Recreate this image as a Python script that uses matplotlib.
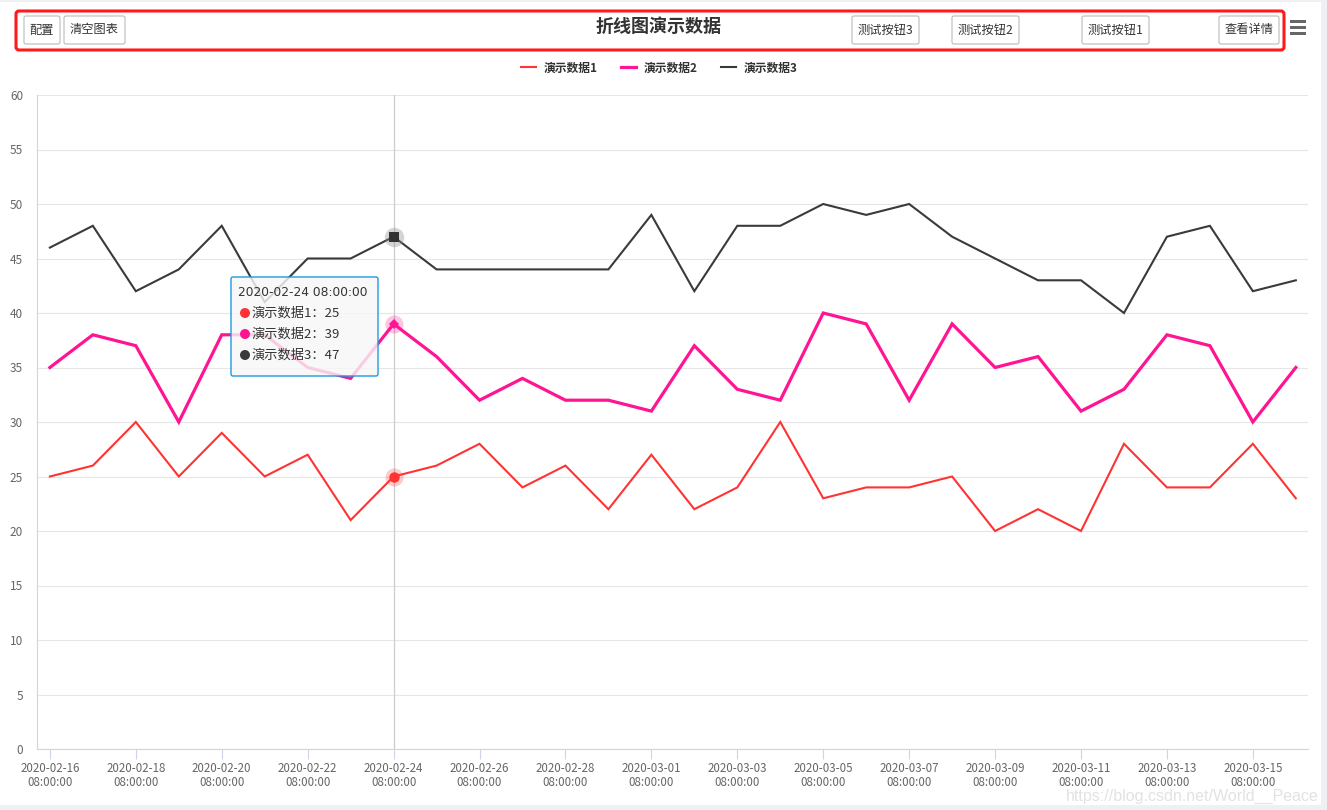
import matplotlib
matplotlib.use("Agg")
import matplotlib.pyplot as plt
import numpy as np
import pandas as pd
from matplotlib.patches import FancyBboxPatch, Rectangle, Circle

plt.rcParams["font.family"] = ["Noto Sans CJK SC", "DejaVu Sans"]

# ---------------------------------------------------------------------------
# Data
# ---------------------------------------------------------------------------
dates = pd.date_range("2020-02-16 08:00:00", "2020-03-16 08:00:00", freq="D")
series_names = ["演示数据1", "演示数据2", "演示数据3"]
demo1 = [25, 26, 30, 25, 29, 25, 27, 21, 25, 26, 28, 24, 26, 22, 27,
         22, 24, 30, 23, 24, 24, 25, 20, 22, 20, 28, 24, 24, 28, 23]
demo2 = [35, 38, 37, 30, 38, 38, 35, 34, 39, 36, 32, 34, 32, 32, 31,
         37, 33, 32, 40, 39, 32, 39, 35, 36, 31, 33, 38, 37, 30, 35]
demo3 = [46, 48, 42, 44, 48, 41, 45, 45, 47, 44, 44, 44, 44, 44, 49,
         42, 48, 48, 50, 49, 50, 47, 45, 43, 43, 40, 47, 48, 42, 43]
colors = ["#ff3333", "#ff1493", "#3a3a3a"]
widths = [1.5, 2.3, 1.5]
hover_idx = 8  # 2020-02-24

title = "折线图演示数据"
left_buttons = [("配置", 24, 60), ("清空图表", 64, 125)]
right_buttons = [("测试按钮3", 852, 919), ("测试按钮2", 952, 1019),
                 ("测试按钮1", 1082, 1149), ("查看详情", 1219, 1279)]

W, H = 1327, 810
fig = plt.figure(figsize=(W / 100, H / 100), dpi=100)
fig.patch.set_facecolor("white")

# ---------------------------------------------------------------------------
# Main axes
# ---------------------------------------------------------------------------
ax = fig.add_axes([37 / W, 1 - 749 / H, (1308 - 37) / W, (749 - 95) / H])
all_series = [demo1, demo2, demo3]
for vals, name, c, lw in zip(all_series, series_names, colors, widths):
    ax.plot(dates, vals, color=c, lw=lw, label=name, zorder=3,
            solid_joinstyle="miter")

ax.set_ylim(0, 60)
ax.set_yticks(np.arange(0, 61, 5))
ax.set_xlim(dates[0] - pd.Timedelta(hours=7.2), dates[-1] + pd.Timedelta(hours=6.8))
ax.set_xticks(dates[::2])
ax.set_xticklabels([d.strftime("%Y-%m-%d\n%H:%M:%S") for d in dates[::2]])
ax.grid(axis="y", color="#e6e6e6", lw=0.8)
ax.grid(axis="x", visible=False)
ax.set_axisbelow(True)
for s in ["top", "right"]:
    ax.spines[s].set_visible(False)
for s in ["left", "bottom"]:
    ax.spines[s].set_color("#ccd6eb")
    ax.spines[s].set_linewidth(0.8)
ax.tick_params(axis="y", length=0, pad=10, labelsize=8.5, labelcolor="#666666")
ax.tick_params(axis="x", length=7, width=0.8, color="#ccd6eb", pad=2,
               labelsize=8.3, labelcolor="#666666")
for lbl in ax.get_xticklabels():
    lbl.set_linespacing(1.2)

# crosshair + hover markers
hx = dates[hover_idx]
ax.axvline(hx, color="#cccccc", lw=0.9, zorder=2)
ax.plot(hx, demo1[hover_idx], "o", ms=13, color="#ff3333", alpha=0.25, mew=0, zorder=4)
ax.plot(hx, demo1[hover_idx], "o", ms=7.5, color="#ff3333", mew=0, zorder=5)
ax.plot(hx, demo2[hover_idx], "o", ms=13, color="#ff1493", alpha=0.25, mew=0, zorder=4)
ax.plot(hx, demo2[hover_idx], "D", ms=5.5, color="#ff1493", mew=0, zorder=5)
ax.plot(hx, demo3[hover_idx], "o", ms=14, color="#888888", alpha=0.35, mew=0, zorder=4)
ax.plot(hx, demo3[hover_idx], "s", ms=7.5, color="#333333", mew=0, zorder=5)

# legend
fig.legend(*ax.get_legend_handles_labels(), loc="center",
           bbox_to_anchor=(659 / W, 1 - 68 / H), ncol=3, frameon=False,
           handlelength=1.3, handletextpad=0.6, columnspacing=2.0,
           prop={"size": 8.5, "weight": "bold"}, labelcolor="#333333")

# ---------------------------------------------------------------------------
# Overlay in pixel coordinates: toolbar, tooltip, watermark
# ---------------------------------------------------------------------------
ov = fig.add_axes([0, 0, 1, 1], zorder=10)
ov.set_xlim(0, W)
ov.set_ylim(H, 0)
ov.axis("off")

ov.add_patch(Rectangle((W - 6, 0), 6, H, color="#eef0f4", lw=0))
ov.add_patch(Rectangle((0, H - 5), W, 5, color="#eef0f4", lw=0))
ov.add_patch(Rectangle((0, 0), W, 2, color="#eef0f4", lw=0))

ov.add_patch(FancyBboxPatch((16, 11), 1268, 39, boxstyle="round,pad=0,rounding_size=3",
                            fc="none", ec="#ff1a1a", lw=2.2))
for text, x0, x1 in left_buttons + right_buttons:
    ov.add_patch(FancyBboxPatch((x0, 16), x1 - x0, 28,
                                boxstyle="round,pad=0,rounding_size=2",
                                fc="white", ec="#bbbbbb", lw=0.8))
    ov.text((x0 + x1) / 2, 30, text, ha="center", va="center", fontsize=8.8,
            color="#333333")
ov.text(659, 26, title, ha="center", va="center", fontsize=13, weight="bold",
        color="#333333")
for yy in (21, 27, 33):
    ov.add_patch(Rectangle((1290, yy - 1.5), 16, 3, color="#666666", lw=0))

# tooltip
ov.add_patch(FancyBboxPatch((231, 277), 147, 99, boxstyle="round,pad=0,rounding_size=2",
                            fc=(0.97, 0.97, 0.97, 0.82), ec="#1e9be0", lw=1.0))
ov.text(238, 292, hx.strftime("%Y-%m-%d %H:%M:%S"), ha="left", va="center",
        fontsize=8.8, color="#333333", family=["DejaVu Sans"])
for k, (vals, name, c) in enumerate(zip(all_series, series_names, colors)):
    yy = 313 + 21 * k
    ov.add_patch(Circle((245, yy), 5, color=c, lw=0))
    ov.text(252, yy, f"{name}：{vals[hover_idx]}", ha="left", va="center",
            fontsize=9.5, color="#333333")

ov.text(1319, 796, "https://blog.csdn.net/World__Peace", ha="right", va="center",
        fontsize=11.5, color="#e2e2e2", family=["Liberation Sans"])

fig.savefig("out.png", dpi=100)
